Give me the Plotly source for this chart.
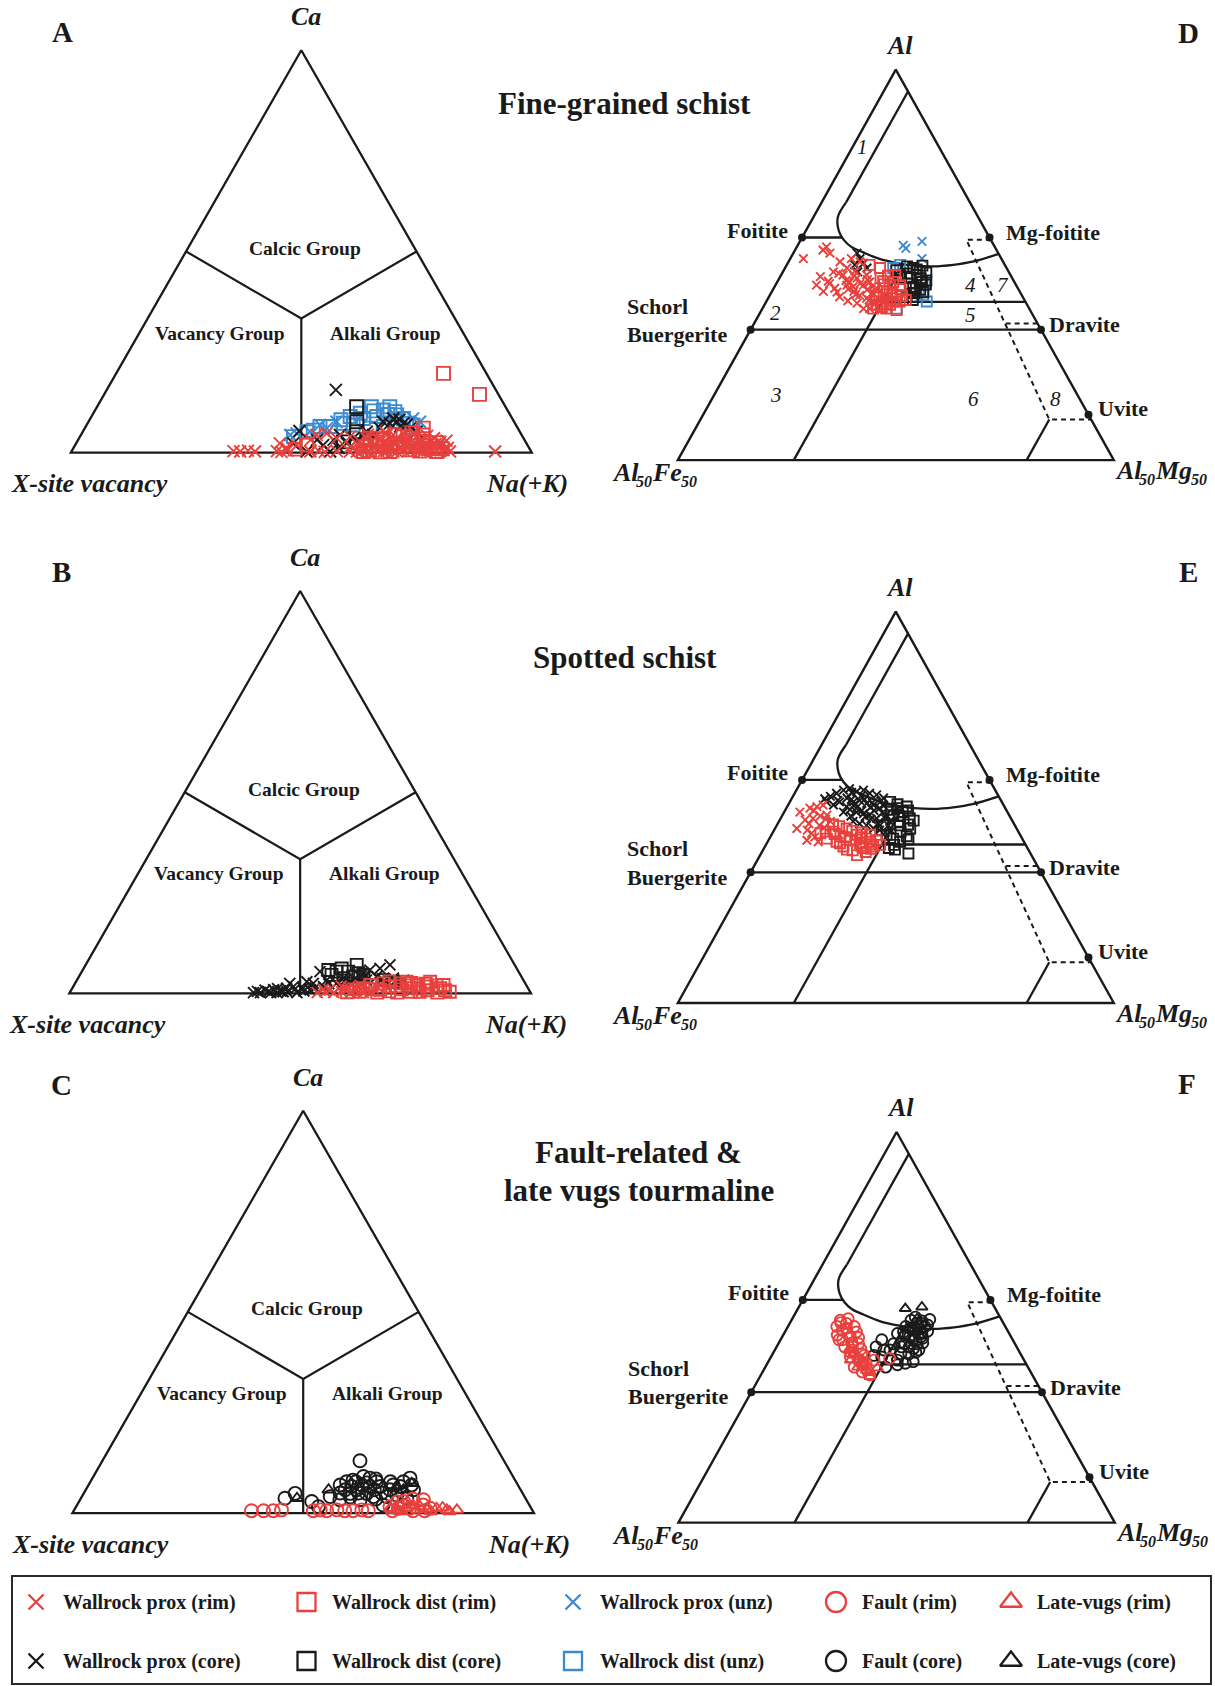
import plotly.graph_objects as go

W, H = 1215, 1686
FONT = "Liberation Serif"
RED = "#e8403d"
BLUE = "#3a8ad0"
BLACK = "#1a1a1a"

# ---------------------------------------------------------------------------
# X-site diagram: points are (Na+K, Ca) site fractions, vacancy = remainder
# ---------------------------------------------------------------------------
XSITE_FRAME = [(0, 0), (1, 0), (0, 1), (0, 0), (1, 0)]
XSITE_FIELDS = [
    [(0.0, 0.5), (1 / 3, 1 / 3), (0.5, 0.5)],
    [(1 / 3, 1 / 3), (0.5, 0.0)],
]

A_PROX_RIM = [(0.351, 0.004), (0.366, 0.003), (0.382, 0.005), (0.398, 0.003), (0.445, 0.004),
              (0.456, 0.002), (0.467, 0.005), (0.518, 0.003), (0.536, 0.004), (0.550, 0.002),
              (0.575, 0.004), (0.604, 0.003), (0.630, 0.005), (0.648, 0.002), (0.677, 0.004),
              (0.706, 0.003), (0.734, 0.005), (0.763, 0.003), (0.792, 0.004), (0.821, 0.003),
              (0.919, 0.003), (0.442, 0.023), (0.511, 0.044), (0.504, 0.032), (0.531, 0.048),
              (0.559, 0.036), (0.586, 0.040), (0.481, 0.019), (0.463, 0.011), (0.629, 0.011),
              (0.638, 0.023), (0.660, 0.007), (0.665, 0.027), (0.685, 0.015), (0.689, 0.036),
              (0.718, 0.007), (0.724, 0.023), (0.730, 0.040), (0.759, 0.011), (0.766, 0.027),
              (0.786, 0.015), (0.805, 0.007), (0.643, 0.040), (0.663, 0.044), (0.624, 0.036),
              (0.713, 0.032), (0.738, 0.011), (0.763, 0.019), (0.698, 0.003), (0.619, 0.003),
              (0.788, 0.027), (0.600, 0.015), (0.612, 0.028), (0.622, 0.045), (0.635, 0.008),
              (0.648, 0.018), (0.652, 0.032), (0.658, 0.050), (0.672, 0.012), (0.676, 0.040),
              (0.694, 0.025), (0.700, 0.046), (0.706, 0.012), (0.712, 0.020), (0.720, 0.050),
              (0.728, 0.014), (0.742, 0.030), (0.748, 0.006), (0.752, 0.042), (0.770, 0.036),
              (0.776, 0.006), (0.780, 0.022), (0.795, 0.018), (0.800, 0.030), (0.812, 0.012),
              (0.683, 0.004), (0.741, 0.020), (0.668, 0.020), (0.690, 0.010), (0.716, 0.038),
              (0.757, 0.016)]
A_DIST_RIM = [(0.710, 0.197), (0.814, 0.145), (0.734, 0.061), (0.742, 0.044), (0.631, 0.036),
              (0.502, 0.019), (0.482, 0.009), (0.633, 0.003), (0.671, 0.015), (0.695, 0.023),
              (0.732, 0.007), (0.737, 0.027), (0.774, 0.011), (0.650, 0.027), (0.701, 0.040),
              (0.792, 0.003), (0.691, 0.003), (0.634, 0.015), (0.660, 0.035), (0.680, 0.045),
              (0.705, 0.015), (0.720, 0.030), (0.748, 0.035), (0.760, 0.018), (0.782, 0.025),
              (0.800, 0.010), (0.645, 0.006), (0.715, 0.050), (0.670, 0.002), (0.755, 0.004)]
A_PROX_CORE = [(0.497, 0.156), (0.469, 0.054), (0.668, 0.077), (0.685, 0.073), (0.656, 0.073),
               (0.657, 0.085), (0.538, 0.019), (0.561, 0.003), (0.595, 0.036), (0.616, 0.052),
               (0.587, 0.023), (0.640, 0.061), (0.706, 0.061), (0.518, 0.032), (0.471, 0.023),
               (0.562, 0.044), (0.618, 0.019), (0.510, 0.003), (0.639, 0.077), (0.682, 0.065),
               (0.724, 0.052), (0.634, 0.044), (0.554, 0.032), (0.672, 0.082), (0.694, 0.070),
               (0.605, 0.030), (0.575, 0.012)]
A_DIST_CORE = [(0.563, 0.114), (0.582, 0.077), (0.594, 0.052), (0.626, 0.032), (0.578, 0.027)]
A_DIST_UNZ = [(0.595, 0.114), (0.635, 0.114), (0.625, 0.106), (0.652, 0.102), (0.561, 0.090),
              (0.592, 0.085), (0.619, 0.090), (0.679, 0.085), (0.708, 0.069), (0.555, 0.073),
              (0.508, 0.065), (0.498, 0.056), (0.530, 0.065), (0.646, 0.065), (0.619, 0.061),
              (0.463, 0.040), (0.579, 0.098), (0.660, 0.094), (0.692, 0.073), (0.486, 0.052),
              (0.578, 0.069), (0.605, 0.104), (0.640, 0.095), (0.668, 0.078), (0.545, 0.082)]
A_PROX_UNZ = [(0.454, 0.044), (0.466, 0.048), (0.506, 0.069), (0.538, 0.077), (0.700, 0.085),
              (0.719, 0.077), (0.583, 0.090), (0.662, 0.090), (0.493, 0.052), (0.525, 0.061)]

B_PROX_CORE = [(0.659, 0.071), (0.622, 0.058), (0.516, 0.054), (0.500, 0.029), (0.465, 0.025),
               (0.398, 0.002), (0.413, 0.002), (0.429, 0.004), (0.449, 0.002), (0.461, 0.004),
               (0.477, 0.017), (0.500, 0.013), (0.516, 0.025), (0.541, 0.033), (0.575, 0.038),
               (0.609, 0.042), (0.645, 0.042), (0.683, 0.038), (0.707, 0.033), (0.492, 0.002),
               (0.517, 0.009), (0.542, 0.017), (0.566, 0.025), (0.593, 0.029), (0.627, 0.033),
               (0.666, 0.029), (0.642, 0.062), (0.612, 0.050), (0.438, 0.009), (0.464, 0.013),
               (0.405, 0.005), (0.420, 0.008), (0.435, 0.002), (0.445, 0.012), (0.455, 0.006),
               (0.470, 0.004), (0.483, 0.010), (0.505, 0.006), (0.525, 0.014), (0.550, 0.024),
               (0.580, 0.030), (0.600, 0.036), (0.620, 0.040), (0.660, 0.036), (0.690, 0.030)]
B_DIST_CORE = [(0.532, 0.058), (0.552, 0.054), (0.587, 0.071), (0.559, 0.062), (0.577, 0.054),
               (0.601, 0.050), (0.614, 0.046), (0.575, 0.038), (0.664, 0.033), (0.687, 0.029),
               (0.545, 0.046), (0.594, 0.042)]
B_PROX_RIM = [(0.536, 0.002), (0.552, 0.004), (0.572, 0.002), (0.588, 0.004), (0.608, 0.002),
              (0.618, 0.009), (0.636, 0.002), (0.627, 0.009), (0.545, 0.010), (0.587, 0.013),
              (0.560, 0.008), (0.598, 0.015), (0.620, 0.020), (0.650, 0.006), (0.660, 0.015),
              (0.580, 0.018)]
B_DIST_RIM = [(0.822, 0.004), (0.797, 0.013), (0.796, 0.002), (0.766, 0.017), (0.742, 0.021),
              (0.732, 0.013), (0.704, 0.025), (0.686, 0.017), (0.669, 0.009), (0.641, 0.021),
              (0.630, 0.013), (0.757, 0.004), (0.709, 0.002), (0.666, 0.002), (0.767, 0.029),
              (0.800, 0.021), (0.716, 0.029), (0.668, 0.025), (0.627, 0.004), (0.690, 0.005),
              (0.715, 0.010), (0.725, 0.020), (0.738, 0.004), (0.750, 0.012), (0.772, 0.008),
              (0.785, 0.020), (0.810, 0.008), (0.650, 0.010), (0.678, 0.030), (0.698, 0.018),
              (0.728, 0.026), (0.760, 0.024), (0.615, 0.010), (0.600, 0.003)]

C_FAULT_CORE = [(0.558, 0.130), (0.442, 0.037), (0.458, 0.049), (0.504, 0.029), (0.525, 0.016),
                (0.545, 0.070), (0.555, 0.078), (0.567, 0.082), (0.585, 0.091), (0.601, 0.087),
                (0.634, 0.066), (0.660, 0.070), (0.678, 0.078), (0.688, 0.087), (0.577, 0.049),
                (0.587, 0.058), (0.613, 0.049), (0.632, 0.041), (0.538, 0.041), (0.660, 0.041),
                (0.680, 0.045), (0.706, 0.037), (0.710, 0.058), (0.607, 0.033), (0.563, 0.033),
                (0.663, 0.020), (0.620, 0.078), (0.572, 0.066), (0.592, 0.070), (0.562, 0.058),
                (0.612, 0.066), (0.659, 0.058), (0.677, 0.066), (0.595, 0.050), (0.625, 0.058),
                (0.645, 0.050), (0.650, 0.078), (0.575, 0.078), (0.600, 0.075), (0.640, 0.035),
                (0.690, 0.050), (0.700, 0.070), (0.555, 0.050), (0.615, 0.085), (0.582, 0.040)]
C_VUGS_CORE = [(0.468, 0.037), (0.526, 0.058), (0.688, 0.058), (0.698, 0.074), (0.670, 0.066)]
C_FAULT_RIM = [(0.385, 0.006), (0.411, 0.006), (0.432, 0.006), (0.449, 0.008), (0.519, 0.006),
               (0.548, 0.006), (0.569, 0.008), (0.587, 0.006), (0.605, 0.006), (0.623, 0.008),
               (0.638, 0.006), (0.680, 0.016), (0.703, 0.029), (0.744, 0.033), (0.700, 0.012),
               (0.725, 0.012), (0.769, 0.012), (0.533, 0.008), (0.690, 0.006), (0.710, 0.018),
               (0.735, 0.006), (0.750, 0.020), (0.760, 0.006), (0.720, 0.035), (0.690, 0.028)]
C_VUGS_RIM = [(0.829, 0.008), (0.807, 0.008), (0.783, 0.012), (0.763, 0.010), (0.742, 0.008),
              (0.718, 0.012), (0.698, 0.008), (0.682, 0.012), (0.728, 0.020), (0.775, 0.004),
              (0.795, 0.014), (0.745, 0.016), (0.815, 0.004), (0.708, 0.004)]

# ---------------------------------------------------------------------------
# Al-Fe-Mg diagram (Al-rich half): points are (Al, Mg) in % of Al+Fe+Mg
# ---------------------------------------------------------------------------
AFM_FRAME = [(100, 0), (50, 0), (50, 50), (100, 0), (50, 0)]
AFM_FIELD1 = [(97.2, 2.8), (83.0, 2.8)]
AFM_CURVE = [(83.0, 2.8), (81.1, 2.8), (79.4, 3.75), (78.2, 4.93), (77.3, 6.25), (76.6, 7.96),
             (75.8, 10.15), (75.2, 12.7), (74.9, 14.66), (74.8, 16.9), (75.0, 19.1),
             (75.4, 21.1), (76.4, 23.6)]
AFM_SOLID = [
    [(78.5, 0.0), (78.5, 4.6)],        # foitite tie to the curve
    [(50.0, 13.3), (75.1, 13.3)],      # fields 2/3 vs 4/5/6
    [(70.25, 13.3), (70.25, 29.75)],   # fields 4 / 5
    [(66.7, 0.0), (66.7, 33.3)],       # schorl - dravite
    [(50.0, 40.0), (55.2, 40.0)],      # field 6 / 8 base
]
AFM_DASHED = [
    [(78.2, 21.8), (78.2, 19.0), (55.2, 40.0), (55.2, 44.8)],
    [(67.5, 28.85), (67.5, 32.5)],
]
AFM_ENDMEMBERS = [(78.5, 0.0), (78.5, 21.5), (66.7, 0.0), (66.7, 33.3), (55.8, 44.2)]

D_PROX_RIM = [(75.8, 1.5), (76.9, 3.2), (77.3, 3.4), (76.5, 4.2), (73.5, 4.6), (71.6, 5.9),
              (75.4, 5.9), (74.6, 7.1), (75.8, 7.0), (72.0, 7.0), (72.4, 4.7), (69.4, 11.6),
              (75.4, 8.2), (73.7, 7.1), (72.8, 8.3), (73.3, 8.9), (72.4, 10.1), (72.8, 10.6),
              (72.0, 11.8), (71.6, 9.4), (71.1, 10.3), (70.7, 11.3), (70.3, 12.3), (72.4, 8.2),
              (69.4, 12.3), (73.7, 9.8), (72.6, 6.1), (74.1, 5.8), (70.1, 10.5), (70.9, 8.1),
              (73.0, 7.8), (72.2, 9.0), (71.8, 10.8), (71.3, 11.8), (70.6, 12.8), (73.6, 8.4),
              (72.6, 9.6), (71.9, 8.6), (71.2, 9.8), (70.5, 11.7), (70.0, 12.6), (73.1, 10.2),
              (72.2, 11.2), (74.2, 8.2), (71.5, 7.5), (73.9, 6.5), (72.9, 5.8), (70.4, 9.3)]
D_DIST_RIM = [(69.2, 15.5), (69.9, 14.4), (72.4, 14.3), (73.7, 13.1), (71.6, 13.2), (69.9, 12.9),
              (70.3, 13.4), (70.3, 15.3), (69.4, 12.7), (71.6, 12.8), (72.0, 13.3), (69.9, 13.3),
              (69.4, 14.2), (70.3, 14.6), (71.1, 14.5), (71.1, 12.2), (70.7, 13.6), (72.8, 13.3),
              (73.3, 11.6), (75.0, 9.5), (74.6, 10.9), (71.4, 13.9), (70.8, 12.7), (72.5, 12.4),
              (71.9, 14.6), (70.0, 14.0), (69.6, 13.6), (71.0, 15.2), (72.9, 12.1), (73.6, 12.3),
              (70.5, 15.9)]
D_PROX_CORE = [(76.5, 7.3), (75.8, 8.0), (75.2, 8.7), (75.0, 7.8), (74.6, 9.4), (71.1, 16.6),
               (72.2, 16.7), (74.1, 8.6)]
D_DIST_CORE = [(74.8, 13.9), (74.6, 14.7), (74.1, 15.7), (72.8, 16.6), (71.8, 16.9), (73.3, 15.0),
               (73.7, 13.6), (72.2, 15.9), (74.3, 12.9), (73.7, 15.6), (70.9, 15.8), (70.5, 16.7),
               (74.4, 15.2), (73.9, 14.4), (73.3, 16.2), (72.6, 15.3), (72.0, 16.3), (71.4, 16.4),
               (73.0, 17.0), (74.0, 16.5), (72.5, 17.2), (71.5, 17.4), (74.9, 15.6), (73.4, 13.9)]
D_PROX_UNZ = [(77.5, 12.1), (77.1, 12.6), (78.0, 14.0), (75.8, 15.1), (70.9, 17.3)]
D_DIST_UNZ = [(74.6, 12.4), (71.1, 17.6), (69.4, 15.4), (72.4, 17.1), (75.0, 13.0), (70.3, 18.4)]

E_PROX_CORE = [(76.4, 4.3), (76.8, 4.8), (77.2, 5.4), (77.4, 6.0), (77.0, 7.0), (77.2, 7.7),
               (76.8, 8.6), (76.6, 9.5), (76.2, 10.5), (75.3, 5.2), (75.7, 5.7), (76.2, 6.3),
               (75.7, 7.3), (75.9, 7.9), (75.5, 8.9), (75.3, 9.8), (74.9, 10.7), (74.4, 6.8),
               (74.7, 7.4), (74.4, 8.3), (74.2, 9.2), (74.0, 10.0), (73.6, 11.0), (73.2, 8.5),
               (72.9, 9.4), (72.7, 10.3), (72.3, 11.3), (72.1, 12.1), (74.0, 11.9), (73.2, 12.7),
               (75.1, 6.8), (75.9, 5.4), (75.7, 4.2), (76.1, 3.8), (76.0, 8.4), (75.6, 9.5),
               (75.0, 9.6), (74.6, 8.8), (74.6, 10.2), (73.8, 9.6), (73.5, 10.4), (73.0, 11.5),
               (72.6, 11.8), (73.6, 12.0), (74.3, 11.3), (75.2, 11.0), (75.8, 10.4), (76.5, 7.8),
               (76.9, 6.5), (76.0, 6.9), (75.4, 7.6), (74.9, 8.0), (73.9, 7.9), (72.7, 12.8),
               (71.8, 12.9), (72.0, 13.5)]
E_DIST_CORE = [(75.7, 11.5), (74.9, 12.7), (74.4, 13.6), (73.6, 14.8), (72.3, 15.5), (71.3, 15.6),
               (70.6, 15.2), (71.0, 14.2), (71.5, 13.2), (70.8, 12.8), (69.8, 14.3), (69.6, 15.1),
               (69.1, 16.9), (72.7, 14.1), (74.0, 12.7), (75.1, 13.7), (72.7, 12.2), (73.1, 13.9),
               (73.9, 13.4), (74.6, 14.1), (72.8, 15.0), (71.9, 14.6), (70.9, 16.0), (70.2, 14.7),
               (74.7, 12.1), (75.4, 12.5), (73.3, 15.4)]
E_PROX_RIM = [(72.3, 2.5), (74.4, 1.8), (74.9, 2.7), (75.1, 3.4), (75.3, 4.0), (73.4, 2.9),
              (73.6, 3.7), (72.7, 4.9), (71.7, 4.5), (74.0, 5.1), (73.2, 5.9), (70.8, 4.4),
              (72.9, 3.6), (72.1, 3.8), (73.9, 4.4), (74.6, 3.3), (71.2, 5.1), (72.4, 5.6),
              (73.5, 5.2), (70.6, 5.8)]
E_DIST_RIM = [(71.9, 6.9), (72.3, 8.2), (71.5, 9.8), (71.0, 11.1), (70.8, 12.4), (70.0, 12.4),
              (69.8, 11.4), (69.5, 10.3), (70.0, 9.0), (70.6, 7.9), (71.0, 6.6), (70.8, 9.3),
              (70.4, 10.7), (71.5, 11.3), (70.2, 13.1), (68.9, 11.1), (71.3, 8.0), (71.7, 5.5),
              (71.2, 10.4), (70.6, 11.7), (71.6, 7.2), (72.0, 9.0), (70.3, 12.0), (69.7, 12.3),
              (70.9, 10.0), (71.8, 10.2), (71.2, 8.6), (70.1, 11.0), (69.3, 11.9), (69.6, 9.6),
              (70.4, 8.4), (71.9, 6.0), (72.6, 7.2), (72.8, 6.4)]

F_FAULT_RIM = [(75.9, 5.6), (75.5, 6.5), (75.1, 7.6), (74.6, 6.5), (73.8, 7.8), (73.4, 6.7),
               (72.9, 9.2), (72.5, 7.8), (72.1, 8.9), (71.6, 10.2), (71.2, 9.1), (70.8, 10.2),
               (70.4, 11.3), (69.9, 10.2), (69.3, 11.4), (68.9, 12.5), (75.1, 5.6), (74.4, 8.2),
               (71.0, 13.7), (76.1, 6.4), (73.4, 7.1), (70.8, 12.0), (75.6, 5.8), (74.9, 6.8),
               (74.2, 7.3), (73.0, 8.4), (72.2, 9.8), (71.8, 8.8), (71.4, 10.6), (70.2, 11.0),
               (69.6, 11.8), (74.0, 6.2), (72.7, 8.6), (73.7, 8.8)]
F_VUGS_RIM = [(70.8, 9.3), (69.9, 10.6), (69.5, 11.8), (68.7, 12.6), (71.6, 9.3), (70.8, 10.7),
              (72.1, 8.5), (69.2, 12.2), (70.3, 10.9), (71.2, 10.0), (69.8, 12.9)]
F_FAULT_CORE = [(73.4, 11.6), (72.5, 11.4), (72.1, 13.2), (71.2, 12.7), (70.8, 14.7), (70.4, 15.8),
                (70.6, 16.6), (71.6, 14.7), (72.5, 15.2), (72.9, 15.9), (73.8, 15.9), (74.6, 14.6),
                (75.1, 13.5), (75.5, 14.6), (75.1, 15.7), (75.9, 13.7), (74.2, 13.0), (72.9, 13.2),
                (69.9, 13.8), (70.2, 15.0), (71.4, 11.7), (75.5, 15.1), (73.8, 14.6), (73.4, 15.2),
                (72.9, 14.5), (72.5, 14.3), (72.1, 16.5), (71.6, 15.6), (76.3, 14.0), (72.1, 12.5),
                (74.8, 15.3), (74.2, 15.8), (73.6, 16.2), (73.0, 16.5), (74.0, 14.0), (74.9, 14.1),
                (75.3, 15.9), (73.1, 14.0), (74.4, 13.6), (73.9, 15.1), (72.3, 15.8), (71.8, 16.3),
                (75.8, 15.0), (76.0, 15.8), (74.5, 16.3)]
F_VUGS_CORE = [(77.4, 12.3), (77.6, 14.1), (76.1, 14.3), (74.8, 14.0), (74.0, 15.6)]

# sample groups: (legend label, marker symbol, colour)
GROUPS = {
    "prox_rim": ("Wallrock prox (rim)", "x-thin-open", RED),
    "dist_rim": ("Wallrock dist (rim)", "square-open", RED),
    "prox_unz": ("Wallrock prox (unz)", "x-thin-open", BLUE),
    "fault_rim": ("Fault (rim)", "circle-open", RED),
    "vugs_rim": ("Late-vugs (rim)", "triangle-up-open", RED),
    "prox_core": ("Wallrock prox (core)", "x-thin-open", BLACK),
    "dist_core": ("Wallrock dist (core)", "square-open", BLACK),
    "dist_unz": ("Wallrock dist (unz)", "square-open", BLUE),
    "fault_core": ("Fault (core)", "circle-open", BLACK),
    "vugs_core": ("Late-vugs (core)", "triangle-up-open", BLACK),
}
LEGEND_ORDER = [["prox_rim", "dist_rim", "prox_unz", "fault_rim", "vugs_rim"],
                ["prox_core", "dist_core", "dist_unz", "fault_core", "vugs_core"]]

# panel frames in page pixels: (left x, right x, base y, apex y)
PANELS = [
    ("A", "xsite", (70.8, 531.8, 452.7, 50.2),
     [("prox_unz", A_PROX_UNZ), ("dist_unz", A_DIST_UNZ), ("prox_core", A_PROX_CORE),
      ("dist_core", A_DIST_CORE), ("prox_rim", A_PROX_RIM), ("dist_rim", A_DIST_RIM)]),
    ("B", "xsite", (69.3, 531.0, 993.4, 591.0),
     [("prox_core", B_PROX_CORE), ("dist_core", B_DIST_CORE), ("prox_rim", B_PROX_RIM),
      ("dist_rim", B_DIST_RIM)]),
    ("C", "xsite", (72.4, 534.0, 1513.1, 1110.7),
     [("fault_core", C_FAULT_CORE), ("vugs_core", C_VUGS_CORE), ("fault_rim", C_FAULT_RIM),
      ("vugs_rim", C_VUGS_RIM)]),
    ("D", "afm", (677.8, 1113.8, 460.1, 69.6),
     [("prox_unz", D_PROX_UNZ), ("dist_unz", D_DIST_UNZ), ("prox_core", D_PROX_CORE),
      ("dist_core", D_DIST_CORE), ("prox_rim", D_PROX_RIM), ("dist_rim", D_DIST_RIM)]),
    ("E", "afm", (677.8, 1113.8, 1003.0, 611.7),
     [("prox_core", E_PROX_CORE), ("dist_core", E_DIST_CORE), ("prox_rim", E_PROX_RIM),
      ("dist_rim", E_DIST_RIM)]),
    ("F", "afm", (678.4, 1114.8, 1522.6, 1132.0),
     [("fault_core", F_FAULT_CORE), ("vugs_core", F_VUGS_CORE), ("fault_rim", F_FAULT_RIM),
      ("vugs_rim", F_VUGS_RIM)]),
]

# marker sizes per panel and symbol
MARKER_SIZE = {
    "A": {"x-thin-open": 12, "square-open": 13},
    "B": {"x-thin-open": 11, "square-open": 12},
    "C": {"circle-open": 13, "triangle-up-open": 11},
    "D": {"x-thin-open": 8.5, "square-open": 10},
    "E": {"x-thin-open": 8.5, "square-open": 10},
    "F": {"circle-open": 11, "triangle-up-open": 10},
}

PANEL_LETTER_POS = {"A": (62.4, 32.3), "B": (61.3, 572.0), "C": (61.3, 1084.5),
                    "D": (1188.0, 33.0), "E": (1188.0, 572.0), "F": (1187.0, 1083.5)}
TITLES = [("Fine-grained schist", 624.7, 103.2), ("Spotted schist", 624.7, 657.0),
          ("Fault-related &", 638.7, 1152.6), ("late vugs tourmaline", 638.7, 1190.3)]

# base-corner labels of the Al-Fe-Mg panels: (pieces, left edge, centre height) where each
# piece is (text, is_subscript); positions are in triangle units
AFM_CORNER_LABELS = [
    ([("Al", False), ("50", True), ("Fe", False), ("50", True)], -0.1564, -0.033),
    ([("Al", False), ("50", True), ("Mg", False), ("50", True)], 0.9977, -0.026),
]
# advance widths (em) of Liberation Serif Bold Italic
GLYPH_EM = {"A": 0.667, "l": 0.278, "F": 0.667, "e": 0.444, "M": 0.889, "g": 0.5,
            "5": 0.5, "0": 0.5}
CORNER_SIZE, CORNER_SUB_SIZE, SUB_DROP = 26, 16, 9

XR = (-0.14, 1.14)
YR = (-0.10, 1.10)


def xsite_xy(pts):
    """(Na+K, Ca) -> cartesian position in the unit triangle (vacancy at origin)."""
    return [na + ca / 2 for na, ca in pts], [ca for na, ca in pts]


def afm_xy(pts):
    """(Al, Mg) -> cartesian position in the Al50Fe50-Al-Al50Mg50 triangle."""
    return ([(mg + al / 2 - 25) / 50 for al, mg in pts],
            [(al - 50) / 50 for al, mg in pts])


def font(size, bold=True, italic=False, color=BLACK):
    return dict(family=FONT, size=size, color=color,
                weight="bold" if bold else "normal",
                style="italic" if italic else "normal")


fig = go.Figure()
axes_layout = {}
annotations = []


def paper_text(text, px, py, size, bold=True, italic=False, xanchor="center"):
    annotations.append(dict(text=text, x=px / W, y=1 - py / H, xref="paper", yref="paper",
                            showarrow=False, xanchor=xanchor, yanchor="middle",
                            font=font(size, bold, italic)))


for idx, (letter, kind, (xl, xr, yb, yt), series) in enumerate(PANELS, start=1):
    sx, sy = xr - xl, yb - yt
    suffix = "" if idx == 1 else str(idx)
    xa, ya = "x" + suffix, "y" + suffix
    axes_layout["xaxis" + suffix] = dict(
        domain=[(xl + XR[0] * sx) / W, (xl + XR[1] * sx) / W], range=list(XR),
        visible=False, fixedrange=True, anchor=ya)
    axes_layout["yaxis" + suffix] = dict(
        domain=[1 - (yb - YR[0] * sy) / H, 1 - (yb - YR[1] * sy) / H], range=list(YR),
        visible=False, fixedrange=True, anchor=xa)

    to_xy = xsite_xy if kind == "xsite" else afm_xy

    def line(pts, width=2.2, dash=None, shape="linear"):
        xs, ys = to_xy(pts)
        fig.add_trace(go.Scatter(x=xs, y=ys, mode="lines", xaxis=xa, yaxis=ya,
                                 line=dict(color=BLACK, width=width, dash=dash, shape=shape),
                                 hoverinfo="skip", showlegend=False))

    def label(text, x, y, size, bold=True, italic=False, xanchor="center"):
        annotations.append(dict(text=text, x=x, y=y, xref=xa, yref=ya, showarrow=False,
                                xanchor=xanchor, yanchor="middle",
                                font=font(size, bold, italic)))

    if kind == "xsite":
        line(XSITE_FRAME, width=2.3)
        for seg in XSITE_FIELDS:
            line(seg, width=2.2)
        label("Ca", 0.5106, 1.0825, 26, italic=True)
        label("X-site vacancy", 0.0399, -0.0773, 26, italic=True)
        label("Na(+K)", 0.9892, -0.0773, 26, italic=True)
        label("Calcic Group", 0.5082, 0.5078, 19.5)
        label("Vacancy Group", 0.3235, 0.2974, 19.5)
        label("Alkali Group", 0.6829, 0.2974, 19.5)
    else:
        line(AFM_FRAME, width=2.4)
        line(AFM_FIELD1, width=2.3)
        line(AFM_CURVE, width=2.3, shape="spline")
        for seg in AFM_SOLID:
            line(seg, width=2.3)
        for seg in AFM_DASHED:
            line(seg, width=2.0, dash="5px,4px")
        ex, ey = afm_xy(AFM_ENDMEMBERS)
        fig.add_trace(go.Scatter(x=ex, y=ey, mode="markers", xaxis=xa, yaxis=ya,
                                 marker=dict(color=BLACK, size=8), hoverinfo="skip",
                                 showlegend=False))
        label("Al", 0.5094, 1.0625, 26, italic=True)
        # corner labels with subscripts, laid out piece by piece
        for pieces, ux, uy in AFM_CORNER_LABELS:
            cx = xl + ux * sx
            cy = yb - uy * sy
            for text, is_sub in pieces:
                size = CORNER_SUB_SIZE if is_sub else CORNER_SIZE
                paper_text(text, cx, cy + (SUB_DROP if is_sub else 0), size, italic=True,
                           xanchor="left")
                cx += sum(GLYPH_EM[ch] for ch in text) * size
        label("Foitite", 0.2578, 0.589, 22, xanchor="right")
        label("Mg-foitite", 0.7482, 0.5835, 22, xanchor="left")
        label("Schorl", -0.121, 0.3936, 22, xanchor="left")
        label("Buergerite", -0.121, 0.3219, 22, xanchor="left")
        label("Dravite", 0.8473, 0.3467, 22, xanchor="left")
        label("Uvite", 0.9583, 0.1319, 22, xanchor="left")
        if letter == "D":
            for num, nx, ny in [("1", 0.4242, 0.8018), ("2", 0.2245, 0.3759),
                                ("3", 0.2245, 0.1667), ("4", 0.6716, 0.4484),
                                ("5", 0.6716, 0.3716), ("6", 0.678, 0.1557),
                                ("7", 0.7454, 0.4484), ("8", 0.867, 0.1557)]:
                label(num, nx, ny, 21, bold=False, italic=True)

    for key, pts in series:
        name, symbol, color = GROUPS[key]
        xs, ys = to_xy(pts)
        fig.add_trace(go.Scatter(
            x=xs, y=ys, mode="markers", name=name, xaxis=xa, yaxis=ya, showlegend=False,
            marker=dict(symbol=symbol, color=color, size=MARKER_SIZE[letter][symbol],
                        line=dict(color=color, width=1.9))))

    lx, ly = PANEL_LETTER_POS[letter]
    paper_text(letter, lx, ly, 29)

for text, tx, ty in TITLES:
    paper_text(text, tx, ty, 31)

# ---------------------------------------------------------------------------
# key: own pixel-space axis spanning the page
# ---------------------------------------------------------------------------
LEG_SYMBOL_X = [36.0, 306.5, 573.0, 836.0, 1011.0]
LEG_TEXT_X = [61.0, 330.0, 597.5, 860.0, 1034.5]
LEG_ROW_Y = [1602.0, 1661.0]
LEG_SIZE = {"x-thin-open": 15, "square-open": 18, "circle-open": 20, "triangle-up-open": 19}

axes_layout["xaxis7"] = dict(domain=[0, 1], range=[0, W], visible=False, fixedrange=True,
                             anchor="y7")
axes_layout["yaxis7"] = dict(domain=[0, 1], range=[H, 0], visible=False, fixedrange=True,
                             anchor="x7")
for row, keys in enumerate(LEGEND_ORDER):
    for col, key in enumerate(keys):
        name, symbol, color = GROUPS[key]
        fig.add_trace(go.Scatter(
            x=[LEG_SYMBOL_X[col]], y=[LEG_ROW_Y[row]], mode="markers", xaxis="x7", yaxis="y7",
            showlegend=False, hoverinfo="skip",
            marker=dict(symbol=symbol, color=color, size=LEG_SIZE[symbol],
                        line=dict(color=color, width=2.3))))
        paper_text(name, LEG_TEXT_X[col], LEG_ROW_Y[row], 20, xanchor="left")

fig.update_layout(
    width=W, height=H, margin=dict(l=0, r=0, t=0, b=0),
    paper_bgcolor="white", plot_bgcolor="rgba(0,0,0,0)", showlegend=False,
    annotations=annotations,
    shapes=[dict(type="rect", xref="paper", yref="paper", x0=12 / W, x1=1211 / W,
                 y0=1 - 1684 / H, y1=1 - 1576 / H, line=dict(color="#2a2a2a", width=2))],
    **axes_layout,
)

fig.write_html("out.html")
